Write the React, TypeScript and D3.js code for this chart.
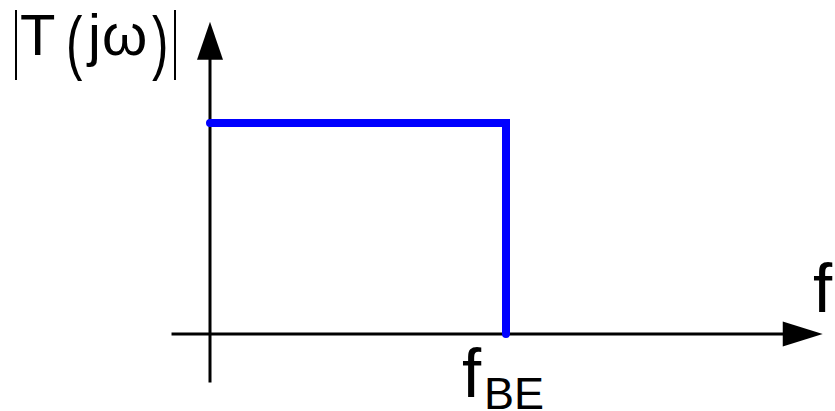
import React from "react";
import * as d3 from "d3";

const passbandFreq = [0, 1, 1];
const passbandGain = [1, 1, 0];
const xAxisExtent = [-0.13, 2.07];
const yAxisExtent = [-0.23, 1.48];
const xLabel = "f";
const cutoffLabel = "f";
const cutoffSub = "BE";
const cutoffFreq = 1;

const W = 835;
const H = 411;

export default function App() {
  const x = d3.scaleLinear().domain([0, 1]).range([210, 506]);
  const y = d3.scaleLinear().domain([0, 1]).range([334, 123]);
  const pts: [number, number][] = passbandFreq.map((f, i) => [x(f), y(passbandGain[i])]);
  const line = d3.line()(pts) || "";
  const x0 = x(xAxisExtent[0]);
  const x1 = x(xAxisExtent[1]);
  const yb = y(yAxisExtent[0]);
  const yt = y(yAxisExtent[1]);
  const oy = y(0);
  const ox = x(0);
  const font = "'Liberation Sans', Arial, sans-serif";
  return (
    <svg width={W} height={H} style={{ position: "absolute", left: 0, top: 0, background: "#fff" }}>
      {/* axes */}
      <line x1={x0} y1={oy} x2={x1 - 30} y2={oy} stroke="#000" strokeWidth={3} />
      <path d={`M${x1},${oy} L${x1 - 40},${oy - 12.5} L${x1 - 40},${oy + 12.5} Z`} fill="#000" />
      <line x1={ox} y1={yb} x2={ox} y2={yt + 30} stroke="#000" strokeWidth={3} />
      <path d={`M${ox},${yt} L${ox - 13},${yt + 38} L${ox + 13},${yt + 38} Z`} fill="#000" />
      {/* response */}
      <path d={line} fill="none" stroke="#0000ff" strokeWidth={8} strokeLinecap="round" strokeLinejoin="miter" />
      {/* labels */}
      <text x={813} y={312} fontFamily={font} fontSize={69} fill="#000">{xLabel}</text>
      <text x={x(cutoffFreq) - 44} y={397} fontFamily={font} fontSize={69} fill="#000">
        {cutoffLabel}
      </text>
      <text x={x(cutoffFreq) - 22} y={409} fontFamily={font} fontSize={45} fill="#000">
        {cutoffSub}
      </text>
      {/* |T(jω)| */}
      <line x1={16} y1={10} x2={16} y2={80} stroke="#000" strokeWidth={2} />
      <line x1={175} y1={10} x2={175} y2={80} stroke="#000" strokeWidth={2} />
      <text x={20} y={55} fontFamily={font} fontSize={58} fill="#000">T</text>
      <text transform="translate(66,66) scale(0.85,1.2)" fontFamily={font} fontSize={58} fill="#000">(</text>
      <text x={88} y={55} fontFamily={font} fontSize={58} fill="#000">j</text>
      <text x={102} y={55} fontFamily={font} fontSize={58} fill="#000">ω</text>
      <text transform="translate(152,66) scale(0.85,1.2)" fontFamily={font} fontSize={58} fill="#000">)</text>
    </svg>
  );
}
